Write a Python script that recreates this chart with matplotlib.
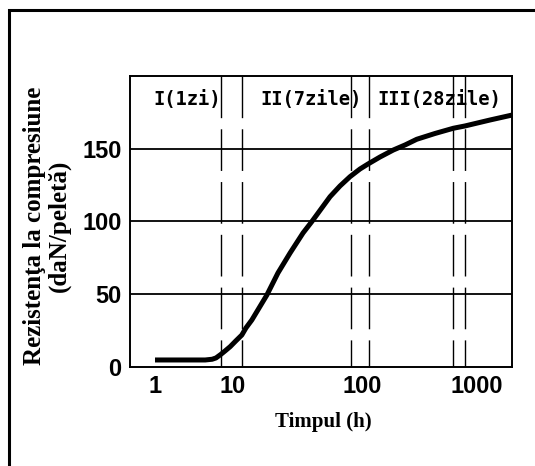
import numpy as np
import matplotlib.pyplot as plt
from matplotlib.patches import Rectangle

# ── values ───────────────────────────────────────────────────────────────────
time_h = [1, 4.4, 5.4, 6.05, 6.96, 7.9, 9.2, 10.5, 11.7, 12.6, 14.0, 18.3,
          22.3, 27.7, 34.9, 40.8, 56.5, 67.5, 80.7, 96.4, 113, 143.5, 187,
          237, 299, 431, 622, 787, 1297, 2014]
strength = [4.5, 4.5, 5.0, 5.9, 8.3, 10.7, 13.7, 17.6, 21.7, 26.6, 32.1, 49.3,
            64.5, 78.3, 92.1, 99.9, 117.1, 124.5, 130.9, 136.2, 139.7, 144.5,
            149.3, 152.8, 156.7, 160.7, 164.3, 165.9, 170.0, 173.4]

period_labels = ["I(1zi)", "II(7zile)", "III(28zile)"]
period_label_t = [2.57, 40.3, 470]
period_bounds = [(7.0, 11.7), (81.7, 115), (622, 787)]

y_ticks = [0, 50, 100, 150]
x_ticks = [1, 10, 100, 1000]
x_ticklabels = ["1", "10", "100", "1000"]

# the decades in the original drawing are not evenly spaced,
# so the x scale follows the drawn spacing (log10 -> position)
dec_log = np.array([-1, 0, 1, 2, 3, 4])
dec_pos = np.array([-78, 0, 78, 207, 322, 437])


def fwd(t):
    t = np.clip(np.asarray(t, dtype=float), 1e-3, None)
    return np.interp(np.log10(t), dec_log, dec_pos)


def inv(p):
    return 10 ** np.interp(p, dec_pos, dec_log)


tick_font = dict(family="Liberation Sans", weight="bold", size=17)
serif_bold = dict(family="Liberation Serif", weight="bold")

fig = plt.figure(figsize=(5.35, 4.66), dpi=100)
ax = fig.add_axes([130 / 535, 1 - 366.5 / 466, 382 / 535, 290 / 466])

ax.set_xscale("function", functions=(fwd, inv))
ax.set_xlim(0.478, 2014)
ax.set_ylim(0, 200)

# horizontal grid
for v in y_ticks[1:]:
    ax.axhline(v, color="black", lw=1.3, zorder=1)

# period boundaries (dashed, drawn from the top down)
for a, b in period_bounds:
    for t in (a, b):
        ax.plot([t, t], [200, 0], color="black", lw=1.0,
                linestyle=(0, (30, 8)), zorder=1)

ax.plot(time_h, strength, color="black", lw=3.6,
        solid_capstyle="butt", solid_joinstyle="round", zorder=3)

for lab, t in zip(period_labels, period_label_t):
    ax.text(t, 183.8, lab, ha="center", va="center",
            family="DejaVu Sans Mono", weight="bold", size=13.5)

ax.set_yticks(y_ticks)
ax.set_yticklabels([str(v) for v in y_ticks], fontdict=tick_font)
ax.set_xticks(x_ticks)
ax.set_xticklabels(x_ticklabels, fontdict=tick_font)
ax.xaxis.set_minor_locator(plt.NullLocator())
ax.tick_params(length=0, pad=6)

for s in ax.spines.values():
    s.set_linewidth(1.4)

fig.text(46.5 / 535, 1 - 226 / 466, "Rezistenţa la compresiune\n(daN/peletă)",
         rotation=90, ha="center", va="center", ma="center",
         size=18, linespacing=1.08, **serif_bold)
fig.text(323 / 535, 1 - 422 / 466, "Timpul (h)", ha="center", va="center",
         size=15, **serif_bold)

# outer frame (only the top and left edges fall inside the image)
fig.add_artist(Rectangle((9 / 535, -0.1), 1.2, 1.1 - 10 / 466, fill=False,
                         lw=2.2, edgecolor="black", transform=fig.transFigure))

fig.savefig("out.png", dpi=100)
plt.close()
